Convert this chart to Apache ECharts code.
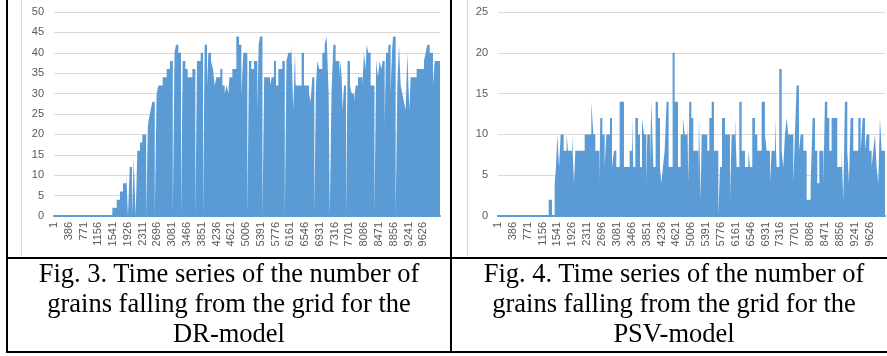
<!DOCTYPE html>
<html>
<head>
  <meta charset="utf-8" />
  <title>Grains falling from the grid</title>
  <script src="https://cdn.jsdelivr.net/npm/echarts@6/dist/echarts.min.js"></script>
  <style>
    body {
      margin: 0;
      width: 887px;
      height: 356px;
      overflow: hidden;
      position: relative;
      background: #fff;
      font-family: "Liberation Serif", "Times New Roman", serif;
    }
    .rule { position: absolute; background: #000; }
    .chart {
      position: absolute;
      top: 0;
      height: 256px;
      border-left: 1px solid #d9d9d9;
    }
    .caption {
      position: absolute;
      top: 258px;
      font-size: 26.5px;
      line-height: 30px;
      text-align: center;
      color: #000;
      white-space: nowrap;
    }
  </style>
</head>
<body>
  <div id="dr" class="chart" style="left:21px; width:429px;"></div>
  <div id="psv" class="chart" style="left:467px; width:420px;"></div>

  <div class="rule" style="left:6px; top:0; width:2px; height:353px;"></div>
  <div class="rule" style="left:450px; top:0; width:2px; height:353px;"></div>
  <div class="rule" style="left:6px; top:257px; width:881px; height:2px;"></div>
  <div class="rule" style="left:6px; top:351px; width:881px; height:2px;"></div>

  <div class="caption" style="left:8px; width:442px;">
    Fig. 3. Time series of the number of<br>grains falling from the grid for the<br>DR-model
  </div>
  <div class="caption" style="left:452px; width:444px;">
    Fig. 4. Time series of the number of<br>grains falling from the grid for the<br>PSV-model
  </div>

  <script>
    // x-axis tick labels (every 385 time steps)
    var tickLabels = ["1", "386", "771", "1156", "1541", "1926", "2311", "2696", "3081",
      "3466", "3851", "4236", "4621", "5006", "5391", "5776", "6161", "6546", "6931",
      "7316", "7701", "8086", "8471", "8856", "9241", "9626"];
    var tickStep = 385;

    // DR-model: time step where each level starts, and the level (grains)
    var drSteps = [1, 1521, 1634, 1720, 1798, 1885, 1928, 1974, 2032, 2078, 2128, 2172,
      2241, 2303, 2402, 2446, 2476, 2520, 2563, 2626, 2674, 2720, 2833, 2937, 3023, 3096,
      3141, 3180, 3241, 3310, 3354, 3423, 3484, 3606, 3684, 3727, 3823, 3884, 3926, 3988,
      4023, 4092, 4144, 4187, 4231, 4335, 4388, 4448, 4500, 4544, 4570, 4648, 4752, 4822,
      4883, 4934, 5039, 5082, 5143, 5212, 5299, 5334, 5368, 5433, 5478, 5629, 5673, 5733,
      5786, 5846, 5950, 6015, 6059, 6107, 6185, 6237, 6280, 6298, 6454, 6515, 6646, 6688,
      6732, 6785, 6827, 6863, 6914, 6993, 7054, 7106, 7158, 7188, 7232, 7280, 7340, 7436,
      7462, 7497, 7523, 7558, 7611, 7653, 7714, 7758, 7818, 7862, 7922, 8035, 8079, 8122,
      8148, 8192, 8253, 8352, 8397, 8443, 8487, 8530, 8565, 8618, 8652, 8713, 8773, 8808,
      8835, 8904, 8948, 8991, 9035, 9077, 9121, 9165, 9208, 9260, 9295, 9451, 9642, 9686,
      9730, 9790, 9877, 9921];
    var drValues = [0, 2, 4, 6, 8, 10, 0, 12, 0, 14, 0, 16,
      18, 20, 0, 22, 24, 26, 28, 0, 30, 32, 34, 36, 38, 0,
      40, 42, 40, 0, 38, 36, 34, 36, 0, 38, 40, 0, 42, 32,
      40, 38, 36, 32, 34, 36, 32, 30, 32, 30, 34, 36, 44, 42,
      30, 40, 0, 38, 36, 38, 26, 42, 44, 0, 34, 32, 34, 38,
      32, 36, 38, 0, 38, 40, 42, 26, 40, 32, 40, 32, 30, 28,
      34, 0, 32, 38, 36, 40, 42, 44, 30, 0, 30, 42, 38, 34,
      38, 34, 26, 32, 0, 38, 32, 30, 28, 32, 34, 32, 40, 36,
      42, 40, 32, 0, 38, 34, 38, 36, 38, 22, 40, 42, 30, 40,
      44, 0, 32, 42, 32, 30, 28, 26, 40, 26, 34, 36, 38, 40,
      42, 40, 32, 38];
    var drEnd = 10060;

    // PSV-model
    var psvSteps = [1, 1313, 1399, 1468, 1502, 1537, 1581, 1623, 1701, 1778, 1813, 1917,
      1968, 2003, 2245, 2418, 2469, 2521, 2624, 2650, 2703, 2763, 2806, 2901, 2953, 3004,
      3065, 3151, 3263, 3410, 3471, 3505, 3557, 3626, 3678, 3730, 3781, 3842, 3868, 3937,
      3972, 4023, 4083, 4144, 4196, 4231, 4273, 4317, 4368, 4420, 4523, 4576, 4662, 4731,
      4791, 4835, 4904, 4931, 4956, 5008, 5060, 5190, 5206, 5250, 5276, 5422, 5474, 5535,
      5595, 5708, 5750, 5803, 5880, 6009, 6053, 6139, 6182, 6251, 6311, 6397, 6485, 6527,
      6587, 6656, 6717, 6829, 6915, 6959, 7045, 7088, 7175, 7218, 7287, 7348, 7391, 7433,
      7477, 7520, 7650, 7692, 7736, 7796, 7840, 7909, 7995, 8099, 8150, 8211, 8271, 8323,
      8427, 8469, 8530, 8582, 8642, 8789, 8901, 8944, 8987, 9048, 9091, 9134, 9203, 9333,
      9394, 9445, 9506, 9549, 9618, 9678, 9722, 9764, 9808, 9851, 9894, 9938];
    var psvValues = [0, 2, 0, 4, 6, 10, 6, 10, 8, 10, 8, 10,
      4, 8, 10, 14, 10, 8, 4, 12, 10, 6, 10, 12, 6, 8,
      6, 14, 6, 8, 12, 6, 12, 10, 6, 12, 10, 4, 10, 6,
      14, 6, 14, 12, 6, 4, 6, 8, 14, 6, 20, 14, 6, 10,
      12, 10, 12, 4, 14, 12, 8, 4, 12, 2, 10, 8, 12, 14,
      8, 0, 6, 12, 10, 2, 10, 12, 6, 14, 8, 6, 8, 6,
      12, 10, 8, 14, 10, 8, 4, 8, 12, 6, 18, 8, 6, 10,
      12, 10, 4, 10, 16, 8, 10, 8, 2, 4, 12, 8, 4, 8,
      4, 14, 12, 8, 12, 6, 8, 2, 14, 8, 4, 12, 8, 12,
      8, 12, 8, 10, 8, 6, 8, 10, 6, 4, 12, 8];
    var psvEnd = 10025;

    function stepPoints(steps, values, end) {
      var pts = steps.map(function (s, i) { return [s, values[i]]; });
      pts.push([end, values[values.length - 1]]);
      return pts;
    }

    var labelFont = {
      color: "#595959",
      fontFamily: "Liberation Sans, Arial, sans-serif",
      fontSize: 11
    };

    function makeOption(gridLeft, gridWidth, xMax, yMax, points) {
      return {
        animation: false,
        grid: { left: gridLeft, top: 12, width: gridWidth, height: 204 },
        xAxis: {
          type: "value",
          min: 0,
          max: xMax,
          interval: tickStep,
          axisLine: { lineStyle: { color: "#5B9BD5", width: 2 } },
          axisTick: { show: false },
          splitLine: { show: false },
          axisLabel: Object.assign({
            rotate: 90,
            margin: 6,
            showMaxLabel: false,
            formatter: function (v) {
              if (v % tickStep !== 0) return "";
              return tickLabels[v / tickStep] || "";
            }
          }, labelFont)
        },
        yAxis: {
          type: "value",
          min: 0,
          max: yMax,
          interval: 5,
          axisLine: { show: false },
          axisTick: { show: false },
          splitLine: { lineStyle: { color: "#d9d9d9", width: 1 } },
          axisLabel: Object.assign({ margin: 10 }, labelFont)
        },
        series: [{
          type: "line",
          step: "end",
          showSymbol: false,
          silent: true,
          data: points,
          lineStyle: { width: 0, opacity: 0 },
          areaStyle: { color: "#5B9BD5", opacity: 1 }
        }]
      };
    }

    var drChart = echarts.init(document.getElementById("dr"));
    drChart.setOption(makeOption(32, 386, drEnd, 50, stepPoints(drSteps, drValues, drEnd)));

    var psvChart = echarts.init(document.getElementById("psv"));
    psvChart.setOption(makeOption(30, 387, psvEnd, 25, stepPoints(psvSteps, psvValues, psvEnd)));
  </script>
</body>
</html>
